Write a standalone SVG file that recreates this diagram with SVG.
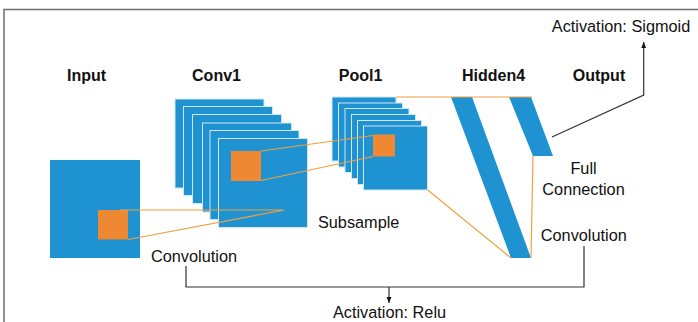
<svg xmlns="http://www.w3.org/2000/svg" width="698" height="322" viewBox="0 0 698 322">
<defs>
<style>
.blue{fill:#1f93d1;stroke:#cfe8f6;stroke-width:1}
.fill{fill:#1f93d1}
.org{fill:#ee8833}
.ol{stroke:#f0a040;stroke-width:1.2;fill:none}
.ttl{font-family:"Liberation Sans",Arial,sans-serif;font-weight:bold;font-size:16px;fill:#111;text-anchor:middle}
.lbl{font-family:"Liberation Sans",Arial,sans-serif;font-size:16.3px;fill:#111;text-anchor:middle}
.ln{stroke:#333;stroke-width:1.2;fill:none}
</style>
<marker id="ah" viewBox="0 0 10 10" refX="10" refY="5" markerWidth="6" markerHeight="6" orient="auto" markerUnits="userSpaceOnUse">
<path d="M0,1 L10,5 L0,9 z" fill="#111"/>
</marker>
</defs>
<rect width="698" height="322" fill="#fff"/>
<g id="frame">
<path d="M4,323 V9.5 H699" stroke="#6e6e6e" stroke-width="1.5" fill="none"/>
</g>
<g id="input">
<rect class="fill" x="50" y="160" width="90" height="98"/>
<rect class="org" x="98" y="210" width="30" height="29.5"/>
<text class="ttl" x="86.5" y="81">Input</text>
</g>
<g id="conv1">
<rect class="blue" x="175" y="99" width="89" height="89"/>
<rect class="blue" x="183.5" y="106.5" width="89" height="89"/>
<rect class="blue" x="192.5" y="114.5" width="89" height="89"/>
<rect class="blue" x="202.5" y="123" width="89" height="89"/>
<rect class="blue" x="210" y="130.5" width="89" height="89"/>
<rect class="blue" x="218.5" y="138.5" width="89" height="89"/>
<rect class="org" x="231" y="151" width="30" height="30"/>
<text class="ttl" x="216.5" y="81">Conv1</text>
</g>
<g id="pool1">
<rect class="blue" x="332" y="97" width="64" height="64"/>
<rect class="blue" x="338.5" y="103" width="64" height="64"/>
<rect class="blue" x="345" y="108.5" width="64" height="64"/>
<rect class="blue" x="351.5" y="114.5" width="64" height="64"/>
<rect class="blue" x="357.5" y="120.5" width="64" height="64"/>
<rect class="blue" x="363.5" y="126" width="64" height="64"/>
<rect class="org" x="373" y="134.5" width="22" height="22"/>
<text class="ttl" x="360.5" y="81">Pool1</text>
</g>
<g id="hidden4">
<polygon class="fill" points="451,97 472,97 531,258 511,258"/>
<text class="ttl" x="493.5" y="81">Hidden4</text>
</g>
<g id="output">
<polygon class="fill" points="509,97 531,97 553,156 533,156"/>
<text class="ttl" x="599" y="81">Output</text>
</g>
<g id="connectors">
<path class="ol" d="M120,210 H284 L128,239.5"/>
<path class="ol" d="M261,151 L373,135.5 M261,180.5 L373,156.5"/>
<path class="ol" d="M396,97 H532 M533,156 L531,258 M427.7,190 L511,258"/>
<path class="ln" d="M552,137 L643.7,95 V42" marker-end="url(#ah)"/>
<path class="ln" d="M186,266 V287 H584 V246"/>
<path class="ln" d="M389,287 V303" marker-end="url(#ah)"/>
</g>
<g id="labels">
<text class="lbl" x="621" y="32">Activation: Sigmoid</text>
<text class="lbl" x="583.5" y="174">Full</text>
<text class="lbl" x="583.5" y="195">Connection</text>
<text class="lbl" x="583.8" y="241">Convolution</text>
<text class="lbl" x="194" y="262">Convolution</text>
<text class="lbl" x="358.7" y="228">Subsample</text>
<text class="lbl" x="389.5" y="318">Activation: Relu</text>
</g>
</svg>
